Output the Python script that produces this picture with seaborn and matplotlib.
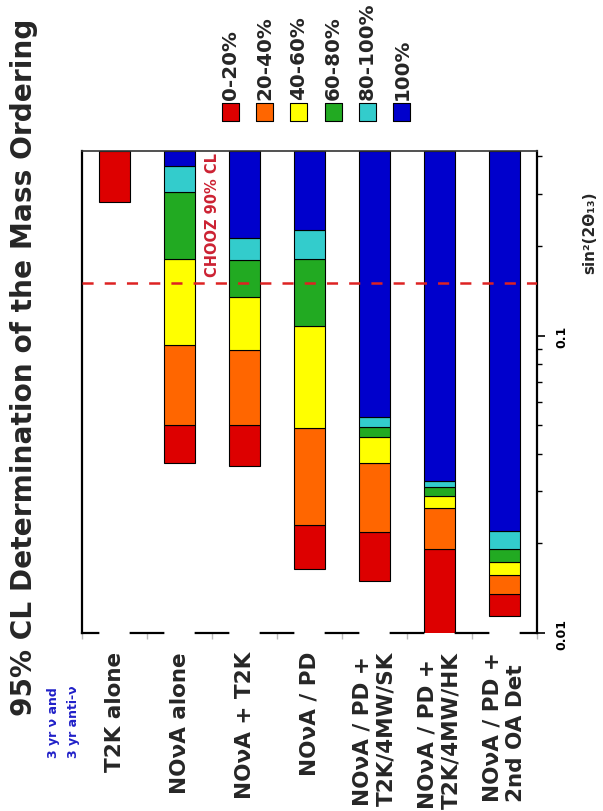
import numpy as np
import pandas as pd
import matplotlib
matplotlib.use("Agg")
import matplotlib.pyplot as plt
import matplotlib.transforms as mtransforms
from matplotlib.ticker import FixedLocator, NullFormatter
import seaborn as sns

nan = np.nan

# ---------------- data ----------------
categories = ["T2K alone", "NOνA alone", "NOνA + T2K", "NOνA / PD",
              "NOνA / PD +\nT2K/4MW/SK", "NOνA / PD +\nT2K/4MW/HK",
              "NOνA / PD +\n2nd OA Det"]
band_labels = ["0-20%", "20-40%", "40-60%", "60-80%", "80-100%", "100%"]
band_colors = ["#dd0000", "#ff6600", "#ffff00", "#22aa22", "#33cccc", "#0000cc"]

# lower edge (sin^2 2θ13) of each fraction band per category; NaN = band absent
red_lo    = [0.280, 0.0373, 0.0363, 0.0164, 0.0149, 0.0095, 0.0114]
orange_lo = [nan,   0.0502, 0.0499, 0.0230, 0.0218, 0.0191, 0.0135]
yellow_lo = [nan,   0.0928, 0.0895, 0.0489, 0.0373, 0.0263, 0.0157]
green_lo  = [nan,   0.181,  0.135,  0.1075, 0.0455, 0.0289, 0.0173]
cyan_lo   = [nan,   0.303,  0.180,  0.181,  0.0494, 0.0309, 0.0192]
blue_lo   = [nan,   0.370,  0.213,  0.226,  0.0532, 0.0325, 0.0221]

sin2_max = 0.417      # upper end of the scanned range
sin2_min = 0.01
chooz_limit = 0.15
ytick_vals = [0.01, 0.1]
ytick_labels = ["0.01", "0.1"]
yminor_vals = [0.02, 0.03, 0.04, 0.05, 0.06, 0.07, 0.08, 0.09, 0.2, 0.3, 0.4]

lows = pd.DataFrame({"red": red_lo, "orange": orange_lo, "yellow": yellow_lo,
                     "green": green_lo, "cyan": cyan_lo, "blue": blue_lo},
                    index=categories)
# upper edge of each band = lower edge of the next present band, else top of range
uppers = lows.copy()
cols = list(lows.columns)
for k, c in enumerate(cols):
    nxt = lows[cols[k + 1:]].bfill(axis=1).iloc[:, 0] if k + 1 < len(cols) else pd.Series(nan, index=lows.index)
    uppers[c] = nxt.fillna(sin2_max)

# ---------------- style ----------------
sns.set_theme(style="white")
plt.rcParams["font.family"] = ["DejaVu Sans"]
plt.rcParams["lines.scale_dashes"] = False
palette = sns.color_palette(band_colors)

fig = plt.figure(figsize=(6.03, 8.12), dpi=100)
ax = fig.add_axes([0.136, 0.2192, 0.7546, 0.5936])

x = np.arange(len(categories))
for k, c in enumerate(cols):
    lo = lows[c].values
    hi = uppers[c].values
    m = ~np.isnan(lo)
    ax.bar(x[m], hi[m] - lo[m], bottom=lo[m], width=0.49, color=palette[k],
           edgecolor="black", linewidth=0.8, zorder=2)

ax.set_yscale("log")
ax.set_ylim(sin2_min, sin2_max)
ax.set_xlim(-0.5, len(categories) - 0.5)

ax.axhline(chooz_limit, color="#dd2222", lw=1.8, ls=(0, (8, 8)), zorder=5)
ax.text(1.5, 0.158, "CHOOZ 90% CL", rotation=90, ha="center", va="bottom",
        color="#cc2233", fontsize=10.5, fontweight="semibold", zorder=6)

# y axis on the right
ax.yaxis.tick_right()
ax.set_yticks(ytick_vals)
ax.set_yticklabels(ytick_labels, rotation=90, va="center", fontsize=9, fontweight="bold")
ax.yaxis.set_minor_locator(FixedLocator(yminor_vals))
ax.yaxis.set_minor_formatter(NullFormatter())
ax.tick_params(axis="y", which="major", direction="out", length=6, width=1.2,
               pad=7, right=True, left=False, colors="black")
ax.tick_params(axis="y", which="minor", direction="out", length=3.5, width=1.0,
               right=True, left=False, color="black")

trans = mtransforms.blended_transform_factory(ax.transAxes, ax.transData)
ax.text(1.116, 0.224, "sin²(2Θ₁₃)", transform=trans, rotation=90, ha="center",
        va="center", fontsize=11, fontweight="bold")

# x axis: categories
ax.set_xticks(x)
ax.set_xticklabels(categories, rotation=90, fontsize=15.5, fontweight="bold",
                   multialignment="left")
ax.tick_params(axis="x", which="major", length=0, pad=13)
ax.set_xticks(np.arange(-0.5, len(categories), 1.0), minor=True)
ax.tick_params(axis="x", which="minor", length=4, color="#bbbbbb", bottom=True, direction="out")

for s in ["left", "right", "top", "bottom"]:
    ax.spines[s].set_color("black")
    ax.spines[s].set_linewidth(1.6)
ax.spines["top"].set_linewidth(1.2)
ax.spines["top"].set_color("#333333")
# bottom axis broken behind each bar
cat_pt = 0.7546 * 6.03 * 72 / len(categories)
ax.spines["bottom"].set_linestyle((0.25 * cat_pt, (0.5 * cat_pt, 0.5 * cat_pt)))

# legend (rotated)
lax = fig.add_axes([213 / 603, 1 - 125 / 812, 206 / 603, 24 / 812])
lax.set_xlim(-0.5, len(band_labels) - 0.5)
lax.set_ylim(-1, 1)
lax.axis("off")
lax.scatter(np.arange(len(band_labels)), np.zeros(len(band_labels)), marker="s", s=150,
            c=band_colors, edgecolors="black", linewidths=0.8, clip_on=False)
for i, lab in enumerate(band_labels):
    lax.annotate(lab, (i, 0), xytext=(0, 9), textcoords="offset points", rotation=90,
                 ha="center", va="bottom", fontsize=14.3, fontweight="bold",
                 annotation_clip=False)

# title and note
fig.text(0.040, 0.548, "95% CL Determination of the Mass Ordering", rotation=90,
         ha="center", va="center", fontsize=20.2, fontweight="bold")
fig.text(63 / 603, 1 - 758 / 812, "3 yr ν and\n3 yr anti-ν", rotation=90, ha="center",
         va="bottom", fontsize=9, fontweight="bold", color="#2020c8", linespacing=1.7,
         multialignment="left")

fig.savefig("out.png", dpi=100)
